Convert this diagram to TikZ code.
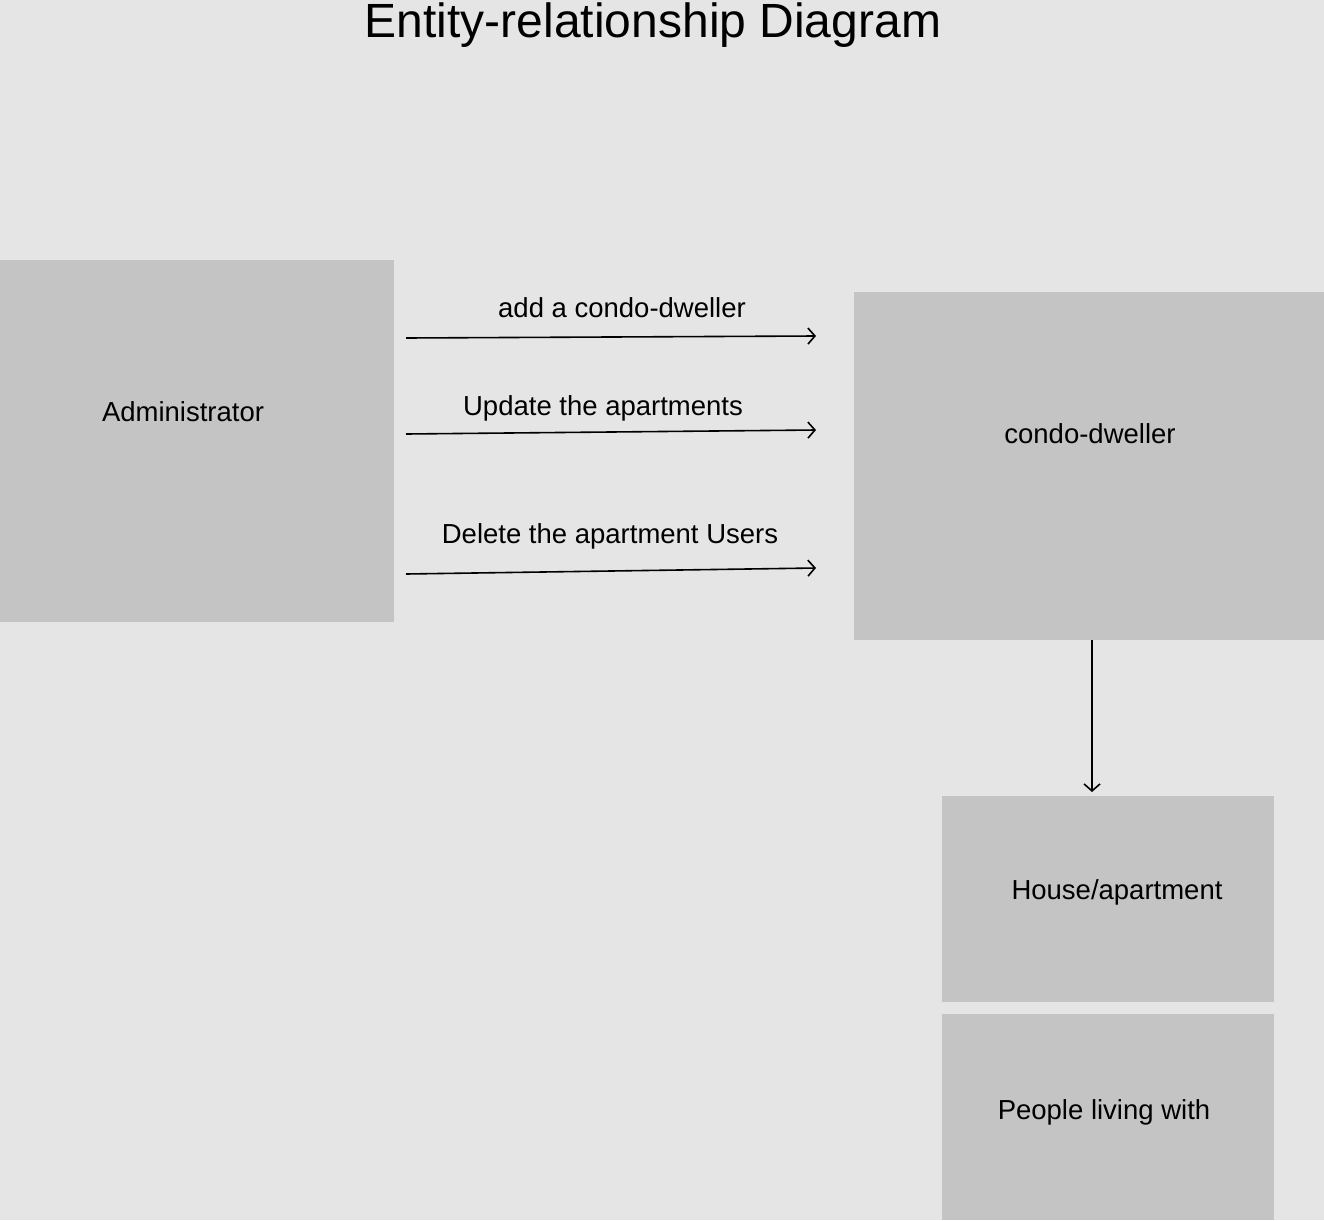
\documentclass[tikz,border=0pt]{standalone}
\usepackage{fontspec}
\setmainfont{Liberation Sans}
\usetikzlibrary{arrows.meta}
\definecolor{pagegray}{HTML}{E5E5E5}
\definecolor{boxgray}{HTML}{C4C4C4}
\begin{document}
\begin{tikzpicture}[x=1pt, y=-1pt, >={Straight Barb[length=7pt,width=16pt,line width=1.6pt]}]

    \tikzset{%
    every entity/.style={
        rectangle,
        fill=boxgray,
        draw=none,
        inner sep=0pt
        },
    every label text/.style={
        anchor=base,
        inner sep=0pt,
        font=\fontsize{27.5}{32}\selectfont
        },
    rel line/.style={
        ->,
        line width=1.6pt
        },
    }

    % Page background and bounding box
    \fill [pagegray] (0,0) rectangle (1324,1220);
    \useasboundingbox (0,0) rectangle (1324,1220);

    % Title
    \node [every label text, font=\fontsize{48}{52}\selectfont] (title) at (653,38) {Entity-relationship Diagram};

    % Entity boxes
    \node [every entity, minimum width=394pt, minimum height=362pt] (admin) at (197,441) {};
    \node [every entity, minimum width=470pt, minimum height=348pt] (dweller) at (1089,466) {};
    \node [every entity, minimum width=332pt, minimum height=206pt] (house) at (1108,899) {};
    \node [every entity, minimum width=332pt, minimum height=206pt] (people) at (1108,1117) {};

    % Entity names
    \node [every label text] (admin-text) at (183,421) {Administrator};
    \node [every label text] (dweller-text) at (1090,443) {condo-dweller};
    \node [every label text] (house-text) at (1117,899) {House/apartment};
    \node [every label text] (people-text) at (1104,1119) {People living with};

    % Relationship arrows from Administrator to condo-dweller
    \foreach \m/\ys/\ye [count=\i] in {1/338/336,2/434/430,3/574/568}
    {
    \coordinate (rel-start-\m) at (406,\ys);
    \coordinate (rel-end-\m) at (816,\ye);
    \draw [rel line] (rel-start-\m) -- (rel-end-\m);
    }

    % Relationship labels
    \foreach \l/\x/\y [count=\i] in {add a condo-dweller/622/317,Update the apartments/603/415,Delete the apartment Users/610/543}
    \node [every label text] (rel-label-\i) at (\x,\y) {\l};

    % condo-dweller to House/apartment
    \coordinate (down-end) at (1092,792);
    \draw [rel line] (dweller.south -| down-end) -- (down-end);

\end{tikzpicture}
\end{document}
